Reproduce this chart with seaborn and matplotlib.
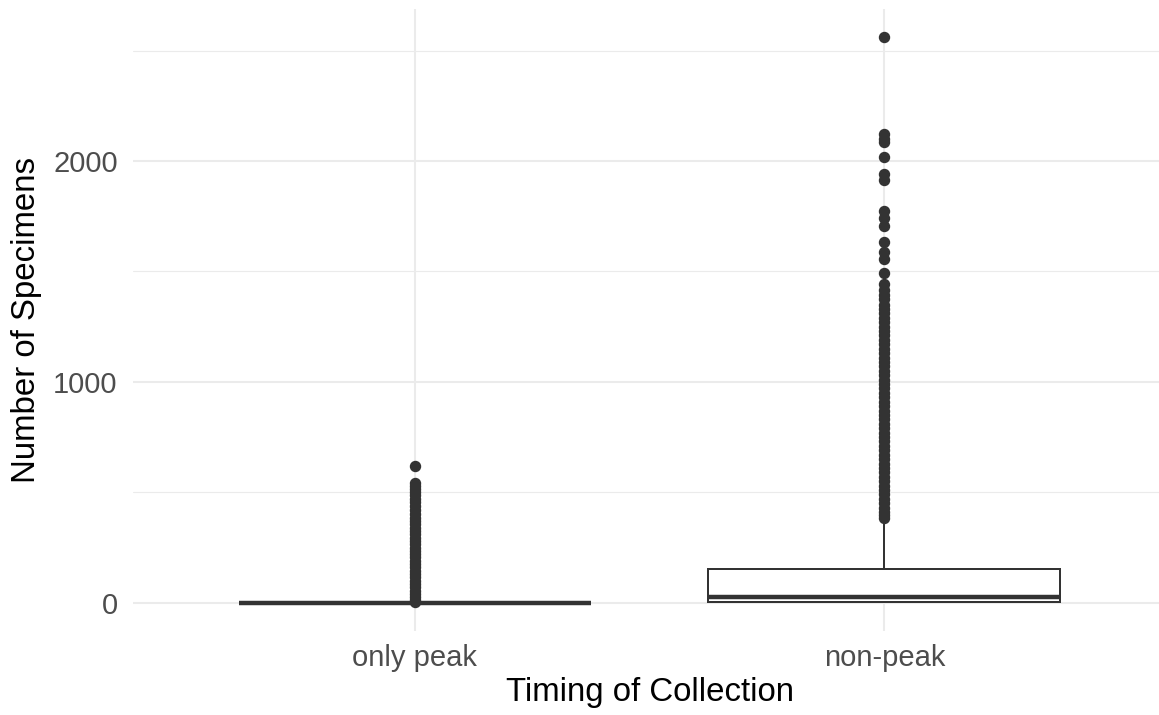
import numpy as np
import pandas as pd
import matplotlib
matplotlib.use('Agg')
import matplotlib.pyplot as plt
import seaborn as sns

# categorias na ordem do eixo x
categorias = ['only peak', 'non-peak']

# only peak: quase tudo zero, o resto vira outlier
peak_valores = [0]
peak_contagens = [1000]
peak_outliers = [620, 540, 528, 515, 500, 488, 470, 455, 440, 420, 400, 385, 370,
                 355, 340, 325, 310, 295, 280, 265, 250, 235, 220, 205, 190, 175,
                 160, 145, 130, 115, 100, 85, 70, 55, 40, 25, 12, 4]

# non-peak: caixa de ~3 a ~154, mediana ~27, bigode ate ~362
nonpeak_valores = [0, 3, 27, 80, 154, 250, 362]
nonpeak_contagens = [200, 100, 200, 150, 200, 50, 20]
nonpeak_outliers = [2560, 2120, 2100, 2085, 2020, 1940, 1915, 1775, 1740, 1705,
                    1635, 1590, 1555, 1495, 1445, 1415, 1395, 1375,
                    1350, 1330, 1310, 1290, 1270, 1250, 1230, 1210, 1190, 1170,
                    1150, 1130, 1110, 1090, 1070, 1050, 1030, 1010, 990, 970,
                    950, 930, 910, 890, 870, 850, 830, 810, 790, 770, 750, 730,
                    710, 690, 670, 650, 630, 610, 590, 570, 550, 530, 510, 490,
                    470, 450, 430, 410, 395, 385]

yticks = [0, 1000, 2000]
yticks_menores = [500, 1500, 2500]

# monta o dataframe longo
peak = list(np.repeat(peak_valores, peak_contagens)) + peak_outliers
nonpeak = list(np.repeat(nonpeak_valores, nonpeak_contagens)) + nonpeak_outliers
df = pd.DataFrame({
    'timing': [categorias[0]] * len(peak) + [categorias[1]] * len(nonpeak),
    'n': peak + nonpeak,
})

sns.set_style('white')
plt.rcParams['font.family'] = ['Liberation Sans', 'DejaVu Sans']

W, H = 1159, 715
fig = plt.figure(figsize=(W / 100, H / 100), dpi=100)
ax = fig.add_axes([133 / W, (H - 631) / H, (1166 - 133) / W, (631 - 9) / H])

sns.boxplot(data=df, x='timing', y='n', order=categorias, ax=ax,
            color='white', saturation=1, linecolor='#333333', linewidth=1.44,
            width=0.75, fliersize=7.2, showcaps=False,
            flierprops=dict(marker='o', markerfacecolor='#333333',
                            markeredgecolor='#333333'),
            medianprops=dict(linewidth=3.2))

ax.set_xlim(-0.6, 1.6)
ax.set_ylim(-128, 2688)
ax.set_yticks(yticks)
ax.set_yticks(yticks_menores, minor=True)

ax.grid(True, which='major', color='#EBEBEB', linewidth=1.5)
ax.grid(True, which='minor', axis='y', color='#EBEBEB', linewidth=0.8)
ax.set_axisbelow(True)
for s in ax.spines.values():
    s.set_visible(False)

ax.tick_params(axis='both', which='both', length=0, labelsize=21,
               labelcolor='#4D4D4D')
ax.tick_params(axis='y', pad=11)
ax.tick_params(axis='x', pad=9)

ax.set_xlabel('Timing of Collection', fontsize=23.8, color='black', labelpad=4)
ax.set_ylabel('Number of Specimens', fontsize=23.8, color='black', labelpad=8)

fig.savefig('out.png', dpi=100)
